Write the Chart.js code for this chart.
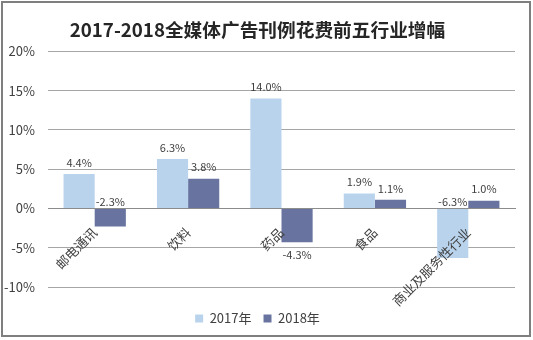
<!DOCTYPE html>
<html>
<head>
<meta charset="utf-8">
<script src="https://cdn.jsdelivr.net/npm/chart.js@4"></script>
<style>
  body { margin: 0; background: #fff; }
  #wrap { width: 533px; height: 340px; position: relative; }
</style>
</head>
<body>
<div id="wrap"><canvas id="myChart" width="533" height="340"></canvas></div>
<script>
const categories = ["邮电通讯", "饮料", "药品", "食品", "商业及服务性行业"];
const values2017 = [4.4, 6.3, 14.0, 1.9, -6.3];
const values2018 = [-2.3, 3.8, -4.3, 1.1, 1.0];
const seriesNames = ["2017年", "2018年"];
const yTicks = [-10, -5, 0, 5, 10, 15, 20];

// negative labels that sit just above the zero line (dataset index -> point indexes)
const labelAtBase = { 0: [4], 1: [0] };

const fontFamily = "'Noto Sans CJK SC', 'Noto Sans', sans-serif";
const ctx = document.getElementById("myChart");

const valueLabels = {
  id: "valueLabels",
  afterDatasetsDraw(chart) {
    const c = chart.ctx;
    c.save();
    c.font = "11px " + fontFamily;
    c.fillStyle = "#404040";
    c.textAlign = "center";
    chart.data.datasets.forEach(function (ds, di) {
      const meta = chart.getDatasetMeta(di);
      meta.data.forEach(function (bar, i) {
        const v = ds.data[i];
        const txt = v.toFixed(1) + "%";
        if (v >= 0) {
          c.textBaseline = "bottom";
          c.fillText(txt, bar.x, bar.y - 6);
        } else if ((labelAtBase[di] || []).includes(i)) {
          c.textBaseline = "bottom";
          c.fillText(txt, bar.x, bar.base - 2);
        } else {
          c.textBaseline = "top";
          c.fillText(txt, bar.x, bar.y + 7);
        }
      });
    });
    c.restore();
  },
};

const frame = {
  id: "frame",
  afterDraw(chart) {
    const c = chart.ctx;
    c.save();
    c.strokeStyle = "#7f7f7f";
    c.lineWidth = 2;
    c.strokeRect(2, 2, 528, 334);
    c.restore();
  },
};

new Chart(ctx, {
  type: "bar",
  data: {
    labels: categories,
    datasets: [
      {
        label: seriesNames[0],
        data: values2017,
        backgroundColor: "#b9d3ed",
        barPercentage: 1,
        categoryPercentage: 0.667,
      },
      {
        label: seriesNames[1],
        data: values2018,
        backgroundColor: "#68749f",
        barPercentage: 1,
        categoryPercentage: 0.667,
      },
    ],
  },
  options: {
    responsive: false,
    animation: false,
    layout: { padding: { left: 0, right: 18, top: 0, bottom: 5 } },
    scales: {
      x: {
        position: { y: 0 },
        grid: { display: false, drawTicks: false },
        border: { display: true, color: "#8c8c8c", width: 1 },
        ticks: {
          z: 1,
          minRotation: 45,
          maxRotation: 45,
          padding: 16,
          color: "#404040",
          font: { family: fontFamily, size: 13 },
        },
      },
      // empty axis that only keeps a gap between the plot and the legend
      gap: {
        type: "linear",
        axis: "x",
        position: "bottom",
        grid: { display: false, drawTicks: false },
        border: { display: false },
        ticks: { display: false },
        afterFit(scale) {
          scale.height = 13;
        },
      },
      y: {
        min: -10,
        max: 20,
        afterBuildTicks(scale) {
          scale.ticks = yTicks.map(function (v) { return { value: v }; });
        },
        afterFit(scale) {
          scale.width = 48;
        },
        grid: { color: "#a6a6a6", drawTicks: false },
        border: { display: false },
        ticks: {
          padding: 13,
          color: "#404040",
          font: { family: fontFamily, size: 13 },
          callback: function (v) { return v + "%"; },
        },
      },
    },
    plugins: {
      title: {
        display: true,
        text: "2017-2018全媒体广告刊例花费前五行业增幅",
        color: "#262626",
        font: { family: fontFamily, size: 18.7, weight: "bold" },
        padding: { top: 19, bottom: 10 },
      },
      legend: {
        position: "bottom",
        labels: {
          boxWidth: 8,
          boxHeight: 8,
          padding: 12,
          color: "#404040",
          font: { family: fontFamily, size: 13 },
        },
      },
      tooltip: { enabled: false },
    },
  },
  plugins: [valueLabels, frame],
});
</script>
</body>
</html>
